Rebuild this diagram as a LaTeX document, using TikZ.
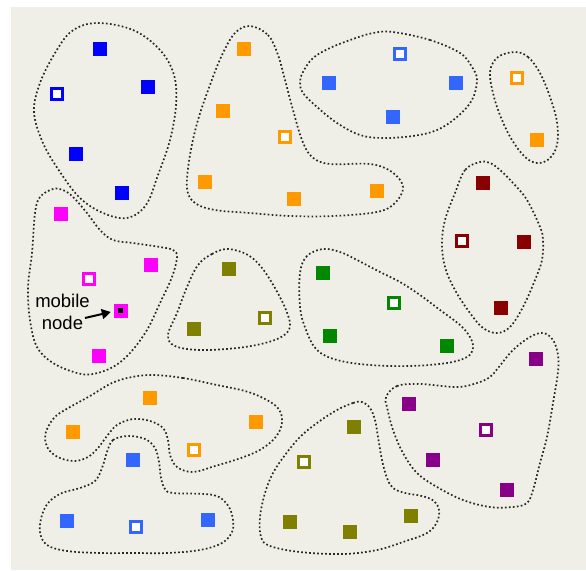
\documentclass[tikz,border=0pt]{standalone}
\usepackage{fontspec}
\setmainfont{Liberation Sans}
\usetikzlibrary{arrows.meta}
\definecolor{paper}{RGB}{240,239,231}
\definecolor{cblue}{RGB}{0,0,255}
\definecolor{cazure}{RGB}{51,102,255}
\definecolor{corange}{RGB}{255,153,0}
\definecolor{cmaroon}{RGB}{136,0,0}
\definecolor{cmagenta}{RGB}{255,0,255}
\definecolor{colive}{RGB}{128,128,0}
\definecolor{cgreen}{RGB}{0,136,0}
\definecolor{cpurple}{RGB}{136,0,136}

\begin{document}
\begin{tikzpicture}[
  x=1pt, y=-1pt,
  sq/.style={rectangle, fill=#1, minimum size=14pt, inner sep=0pt},
  hollow/.style={rectangle, draw=#1, fill=white, line width=2.6pt,
                 minimum size=10.7pt, inner sep=0pt},
  zone/.style={draw=black!85, line width=1.7pt, dash pattern=on 1.7pt off 2.3pt},
  arr/.style={-{Triangle[length=9pt,width=10pt]}, line width=2pt},
  tag/.style={align=center, font=\fontsize{18.5}{21.5}\selectfont, inner sep=1pt}
]
\useasboundingbox (0,0) rectangle (586,570);
\fill[paper] (11,7) rectangle (586,570);

\draw[zone] plot[smooth cycle, tension=0.6] coordinates {(97,23) (133,30) (160,50) (174,75) (176,105) (170,140) (158,175) (146,205) (127,218) (103,213) (80,198) (60,172) (43,143) (34,112) (40,83) (55,53) (72,31)};
\draw[zone] plot[smooth cycle, tension=0.6] coordinates {(250,26) (268,35) (278,55) (285,80) (293,110) (302,140) (312,157) (330,164) (370,164) (392,172) (403,187) (395,203) (377,212) (333,216) (290,216) (250,213) (215,210) (195,203) (187,188) (190,155) (198,120) (210,85) (222,55) (235,33)};
\draw[zone] plot[smooth cycle, tension=0.6] coordinates {(393,32) (430,40) (460,53) (472,67) (477,80) (472,100) (457,117) (437,130) (413,136) (383,138) (360,135) (337,123) (317,107) (303,93) (300,82) (303,72) (313,58) (330,48) (353,39) (373,33)};
\draw[zone] plot[smooth cycle, tension=0.6] coordinates {(515,52) (528,57) (540,73) (550,97) (557,122) (557,145) (549,159) (537,163) (525,157) (512,140) (502,120) (494,97) (490,72) (498,57)};
\draw[zone] plot[smooth cycle, tension=0.6] coordinates {(480,162) (465,170) (455,193) (445,220) (442,243) (445,267) (455,290) (470,313) (483,328) (497,333) (510,327) (523,307) (535,280) (542,260) (543,240) (540,227) (527,200) (513,183) (500,170) (490,163)};
\draw[zone] plot[smooth cycle, tension=0.6] coordinates {(53,189) (40,197) (35,213) (32,253) (28,287) (30,320) (37,347) (53,363) (77,373) (93,374) (113,367) (130,353) (147,330) (160,303) (172,277) (177,257) (173,250) (160,247) (133,243) (113,240) (100,230) (87,213) (73,197) (63,190)};
\draw[zone] plot[smooth cycle, tension=0.6] coordinates {(228,249) (212,254) (198,265) (187,287) (177,313) (168,335) (175,346) (200,350) (237,348) (265,343) (283,336) (290,326) (286,310) (275,288) (262,268) (248,255)};
\draw[zone] plot[smooth cycle, tension=0.6] coordinates {(323,249) (307,256) (300,273) (300,307) (306,330) (317,350) (337,360) (370,365) (410,366) (447,363) (467,357) (473,348) (470,337) (460,325) (440,310) (420,295) (400,282) (380,272) (357,260) (340,252)};
\draw[zone] plot[smooth cycle, tension=0.6] coordinates {(386,397) (397,386) (420,384) (457,387) (477,383) (490,377) (498,368) (513,350) (530,337) (543,333) (553,340) (558,355) (558,372) (553,403) (547,437) (540,463) (533,490) (527,503) (513,507) (490,507) (463,500) (437,487) (417,473) (403,453) (393,430) (387,407)};
\draw[zone] plot[smooth cycle, tension=0.6] coordinates {(153,375) (183,378) (217,385) (245,391) (263,398) (277,407) (282,418) (280,430) (272,441) (258,451) (238,459) (215,466) (193,472) (177,467) (170,455) (168,440) (163,428) (150,421) (133,419) (117,425) (107,436) (98,448) (88,457) (75,461) (60,458) (49,450) (45,438) (48,427) (56,416) (70,407) (90,396) (112,383) (132,377)};
\draw[zone] plot[smooth cycle, tension=0.6] coordinates {(128,436) (113,440) (107,452) (102,468) (95,481) (80,488) (62,493) (49,502) (42,515) (40,532) (47,545) (67,551) (100,553) (133,553) (167,553) (200,550) (222,543) (232,532) (233,520) (229,507) (219,497) (205,494) (173,493) (165,489) (161,478) (159,462) (155,448) (145,439)};
\draw[zone] plot[smooth cycle, tension=0.6] coordinates {(362,402) (353,403) (337,410) (317,423) (300,437) (285,455) (273,473) (265,493) (260,517) (261,537) (270,546) (300,552) (343,554) (377,550) (403,542) (427,533) (437,522) (439,510) (434,501) (422,496) (405,493) (393,488) (387,478) (382,460) (378,437) (375,420) (370,408)};

\node[sq=cblue] (b1) at (100,49) {};
\node[sq=cblue] (b2) at (148,87) {};
\node[hollow=cblue] (b3) at (57,94) {};
\node[sq=cblue] (b4) at (76,154) {};
\node[sq=cblue] (b5) at (122,193) {};

\node[sq=corange] (o1) at (244,49) {};
\node[sq=corange] (o2) at (223,111) {};
\node[hollow=corange] (o3) at (285,137) {};
\node[sq=corange] (o4) at (205,182) {};
\node[sq=corange] (o5) at (294,199) {};
\node[sq=corange] (o6) at (377,191) {};

\node[sq=cazure] (a1) at (329,83) {};
\node[hollow=cazure] (a2) at (400,54) {};
\node[sq=cazure] (a3) at (456,83) {};
\node[sq=cazure] (a4) at (393,117) {};

\node[hollow=corange] (p1) at (517,78) {};
\node[sq=corange] (p2) at (537,140) {};

\node[sq=cmaroon] (r1) at (483,183) {};
\node[hollow=cmaroon] (r2) at (462,241) {};
\node[sq=cmaroon] (r3) at (524,242) {};
\node[sq=cmaroon] (r4) at (501,308) {};

\node[sq=cmagenta] (m1) at (61,214) {};
\node[sq=cmagenta] (m2) at (151,265) {};
\node[hollow=cmagenta] (m3) at (89,279) {};
\node[sq=cmagenta] (mob) at (120.5,310.5) {};
\node[sq=black, minimum size=5pt] (mobdot) at (mob) {};
\node[sq=cmagenta] (m4) at (99,356) {};

\node[sq=colive] (v1) at (229,269) {};
\node[sq=colive] (v2) at (194,329) {};
\node[hollow=colive] (v3) at (265,318) {};

\node[sq=cgreen] (g1) at (323,273) {};
\node[hollow=cgreen] (g2) at (394,303) {};
\node[sq=cgreen] (g3) at (330,336) {};
\node[sq=cgreen] (g4) at (447,346) {};

\node[sq=cpurple] (u1) at (536,359) {};
\node[sq=cpurple] (u2) at (409,404) {};
\node[hollow=cpurple] (u3) at (486,430) {};
\node[sq=cpurple] (u4) at (433,460) {};
\node[sq=cpurple] (u5) at (507,490) {};

\node[sq=corange] (q1) at (150,398) {};
\node[sq=corange] (q2) at (73,432) {};
\node[hollow=corange] (q3) at (194,450) {};
\node[sq=corange] (q4) at (256,422) {};

\node[sq=cazure] (c1) at (133,460) {};
\node[sq=cazure] (c2) at (67,521) {};
\node[hollow=cazure] (c3) at (136,527) {};
\node[sq=cazure] (c4) at (208,520) {};

\node[sq=colive] (w1) at (354,427) {};
\node[hollow=colive] (w2) at (304,462) {};
\node[sq=colive] (w3) at (290,522) {};
\node[sq=colive] (w4) at (350,532) {};
\node[sq=colive] (w5) at (411,516) {};

\node[tag] (mobtxt) at (62.5,312) {mobile\\node};
\draw[arr] ([shift={(-6,6)}]mobtxt.east) -- ([shift={(-2.5,1.5)}]mob.west);
\end{tikzpicture}
\end{document}
